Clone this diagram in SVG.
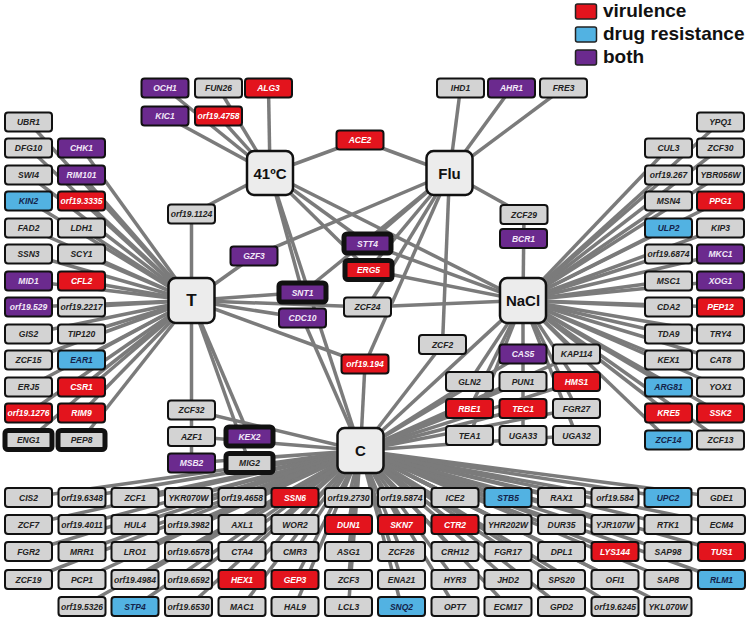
<svg xmlns="http://www.w3.org/2000/svg" width="750" height="621" viewBox="0 0 750 621">
<style>
text{font-family:"Liberation Sans",Arial,sans-serif;text-anchor:middle}
.n text{font-size:8.5px;font-weight:bold;font-style:italic}
.n rect{stroke:#111;stroke-width:2}
.g rect{fill:#d3d3d3}.g text{fill:#222}
.r rect{fill:#e3141d}.r text{fill:#fff}
.b rect{fill:#52b2e2}.b text{fill:#14234a}
.p rect{fill:#6b2a8e}.p text{fill:#f2e8f8}
.k rect{stroke-width:5}
.h rect{fill:#ececec;stroke:#111;stroke-width:2.5}
.h text{font-size:15px;font-weight:bold;fill:#111}
#edges line{stroke:#7b7b7b;stroke-width:3.5}
.lg text{font-size:19px;font-weight:bold;text-anchor:start;fill:#111}
.lg rect{stroke:#222;stroke-width:1.5}
</style>
<rect width="750" height="621" fill="#fff"/>
<g id="edges">
<!-- 41C -->
<line x1="270" y1="173" x2="165" y2="88"/><line x1="270" y1="173" x2="218.5" y2="88"/><line x1="270" y1="173" x2="268.5" y2="88"/>
<line x1="270" y1="173" x2="165" y2="116"/><line x1="270" y1="173" x2="218.5" y2="116"/><line x1="270" y1="173" x2="360" y2="140"/>
<line x1="270" y1="173" x2="191.5" y2="214"/><line x1="270" y1="173" x2="367.5" y2="243.5"/><line x1="270" y1="173" x2="368.5" y2="270"/>
<line x1="270" y1="173" x2="302.5" y2="292.5"/><line x1="270" y1="173" x2="360.5" y2="450.5"/><line x1="270" y1="173" x2="523" y2="300.5"/>
<!-- Flu -->
<line x1="449.5" y1="173" x2="460.5" y2="88"/><line x1="449.5" y1="173" x2="511.5" y2="88"/><line x1="449.5" y1="173" x2="563.5" y2="88"/>
<line x1="449.5" y1="173" x2="360" y2="140"/><line x1="449.5" y1="173" x2="524" y2="214.5"/><line x1="449.5" y1="173" x2="254" y2="256"/>
<line x1="449.5" y1="173" x2="367.5" y2="243.5"/><line x1="449.5" y1="173" x2="368.5" y2="270"/><line x1="449.5" y1="173" x2="302.5" y2="292.5"/>
<line x1="449.5" y1="173" x2="367.5" y2="307"/><line x1="449.5" y1="173" x2="442.5" y2="344.5"/><line x1="449.5" y1="173" x2="365" y2="364"/>
<!-- T center -->
<line x1="191.5" y1="300.5" x2="191.5" y2="214"/><line x1="191.5" y1="300.5" x2="254" y2="256"/><line x1="191.5" y1="300.5" x2="302.5" y2="292.5"/>
<line x1="191.5" y1="300.5" x2="302.5" y2="318"/><line x1="191.5" y1="300.5" x2="367.5" y2="307"/><line x1="191.5" y1="300.5" x2="365" y2="364"/>
<line x1="191.5" y1="300.5" x2="191.5" y2="463"/><line x1="191.5" y1="300.5" x2="249.5" y2="436.5"/><line x1="191.5" y1="300.5" x2="249.5" y2="463"/>
<!-- T left column -->
<line x1="191.5" y1="300.5" x2="28.5" y2="122"/><line x1="191.5" y1="300.5" x2="28.5" y2="148"/><line x1="191.5" y1="300.5" x2="81.5" y2="148"/>
<line x1="191.5" y1="300.5" x2="28.5" y2="175"/><line x1="191.5" y1="300.5" x2="81.5" y2="175"/><line x1="191.5" y1="300.5" x2="28.5" y2="201"/>
<line x1="191.5" y1="300.5" x2="81.5" y2="201"/><line x1="191.5" y1="300.5" x2="28.5" y2="228"/><line x1="191.5" y1="300.5" x2="81.5" y2="228"/>
<line x1="191.5" y1="300.5" x2="28.5" y2="254"/><line x1="191.5" y1="300.5" x2="81.5" y2="254"/><line x1="191.5" y1="300.5" x2="28.5" y2="281"/>
<line x1="191.5" y1="300.5" x2="81.5" y2="281"/><line x1="191.5" y1="300.5" x2="28.5" y2="307"/><line x1="191.5" y1="300.5" x2="81.5" y2="307"/>
<line x1="191.5" y1="300.5" x2="28.5" y2="334"/><line x1="191.5" y1="300.5" x2="81.5" y2="334"/><line x1="191.5" y1="300.5" x2="28.5" y2="360"/>
<line x1="191.5" y1="300.5" x2="81.5" y2="360"/><line x1="191.5" y1="300.5" x2="28.5" y2="387"/><line x1="191.5" y1="300.5" x2="81.5" y2="387"/>
<line x1="191.5" y1="300.5" x2="28.5" y2="413"/><line x1="191.5" y1="300.5" x2="81.5" y2="413"/><line x1="191.5" y1="300.5" x2="28.5" y2="440"/>
<line x1="191.5" y1="300.5" x2="81.5" y2="440"/>
<!-- NaCl center -->
<line x1="523" y1="300.5" x2="524" y2="214.5"/><line x1="523" y1="300.5" x2="367.5" y2="243.5"/><line x1="523" y1="300.5" x2="368.5" y2="270"/>
<line x1="523" y1="300.5" x2="367.5" y2="307"/><line x1="523" y1="300.5" x2="523" y2="435.5"/><line x1="523" y1="300.5" x2="576.5" y2="354"/>
<line x1="523" y1="300.5" x2="469.5" y2="381.5"/><line x1="523" y1="300.5" x2="576.5" y2="381.5"/><line x1="523" y1="300.5" x2="469.5" y2="408.5"/>
<line x1="523" y1="300.5" x2="576.5" y2="408.5"/><line x1="523" y1="300.5" x2="469.5" y2="435.5"/><line x1="523" y1="300.5" x2="576.5" y2="435.5"/>
<line x1="523" y1="300.5" x2="360.5" y2="450.5"/>
<!-- NaCl right column -->
<line x1="523" y1="300.5" x2="720.5" y2="122"/><line x1="523" y1="300.5" x2="668.5" y2="148"/><line x1="523" y1="300.5" x2="720.5" y2="148"/>
<line x1="523" y1="300.5" x2="668.5" y2="175"/><line x1="523" y1="300.5" x2="720.5" y2="175"/><line x1="523" y1="300.5" x2="668.5" y2="201"/>
<line x1="523" y1="300.5" x2="720.5" y2="201"/><line x1="523" y1="300.5" x2="668.5" y2="228"/><line x1="523" y1="300.5" x2="720.5" y2="228"/>
<line x1="523" y1="300.5" x2="668.5" y2="254"/><line x1="523" y1="300.5" x2="720.5" y2="254"/><line x1="523" y1="300.5" x2="668.5" y2="281"/>
<line x1="523" y1="300.5" x2="720.5" y2="281"/><line x1="523" y1="300.5" x2="668.5" y2="307"/><line x1="523" y1="300.5" x2="720.5" y2="307"/>
<line x1="523" y1="300.5" x2="668.5" y2="334"/><line x1="523" y1="300.5" x2="720.5" y2="334"/><line x1="523" y1="300.5" x2="668.5" y2="360"/>
<line x1="523" y1="300.5" x2="720.5" y2="360"/><line x1="523" y1="300.5" x2="668.5" y2="387"/><line x1="523" y1="300.5" x2="720.5" y2="387"/>
<line x1="523" y1="300.5" x2="668.5" y2="413"/><line x1="523" y1="300.5" x2="720.5" y2="413"/><line x1="523" y1="300.5" x2="668.5" y2="440"/>
<line x1="523" y1="300.5" x2="720.5" y2="440"/>
<!-- C center -->
<line x1="360.5" y1="450.5" x2="191.5" y2="410"/><line x1="360.5" y1="450.5" x2="191.5" y2="436.5"/><line x1="360.5" y1="450.5" x2="191.5" y2="463"/>
<line x1="360.5" y1="450.5" x2="302.5" y2="318"/><line x1="360.5" y1="450.5" x2="365" y2="364"/><line x1="360.5" y1="450.5" x2="442.5" y2="344.5"/>
<line x1="360.5" y1="450.5" x2="523" y2="354"/><line x1="360.5" y1="450.5" x2="576.5" y2="354"/><line x1="360.5" y1="450.5" x2="469.5" y2="381.5"/>
<line x1="360.5" y1="450.5" x2="523" y2="381.5"/><line x1="360.5" y1="450.5" x2="576.5" y2="381.5"/><line x1="360.5" y1="450.5" x2="469.5" y2="408.5"/>
<line x1="360.5" y1="450.5" x2="523" y2="408.5"/><line x1="360.5" y1="450.5" x2="576.5" y2="408.5"/><line x1="360.5" y1="450.5" x2="576.5" y2="435.5"/>
<!-- C bottom grid -->
<line x1="360.5" y1="450.5" x2="28.5" y2="497.5"/><line x1="360.5" y1="450.5" x2="82" y2="497.5"/><line x1="360.5" y1="450.5" x2="135" y2="497.5"/>
<line x1="360.5" y1="450.5" x2="188.5" y2="497.5"/><line x1="360.5" y1="450.5" x2="242" y2="497.5"/><line x1="360.5" y1="450.5" x2="295" y2="497.5"/>
<line x1="360.5" y1="450.5" x2="348.5" y2="497.5"/><line x1="360.5" y1="450.5" x2="401.5" y2="497.5"/><line x1="360.5" y1="450.5" x2="455" y2="497.5"/>
<line x1="360.5" y1="450.5" x2="508" y2="497.5"/><line x1="360.5" y1="450.5" x2="561.5" y2="497.5"/><line x1="360.5" y1="450.5" x2="615" y2="497.5"/>
<line x1="360.5" y1="450.5" x2="668" y2="497.5"/><line x1="360.5" y1="450.5" x2="721.5" y2="497.5"/>
<line x1="360.5" y1="450.5" x2="28.5" y2="524.5"/><line x1="360.5" y1="450.5" x2="82" y2="524.5"/><line x1="360.5" y1="450.5" x2="135" y2="524.5"/>
<line x1="360.5" y1="450.5" x2="188.5" y2="524.5"/><line x1="360.5" y1="450.5" x2="242" y2="524.5"/><line x1="360.5" y1="450.5" x2="295" y2="524.5"/>
<line x1="360.5" y1="450.5" x2="348.5" y2="524.5"/><line x1="360.5" y1="450.5" x2="401.5" y2="524.5"/><line x1="360.5" y1="450.5" x2="455" y2="524.5"/>
<line x1="360.5" y1="450.5" x2="508" y2="524.5"/><line x1="360.5" y1="450.5" x2="561.5" y2="524.5"/><line x1="360.5" y1="450.5" x2="615" y2="524.5"/>
<line x1="360.5" y1="450.5" x2="668" y2="524.5"/><line x1="360.5" y1="450.5" x2="721.5" y2="524.5"/>
<line x1="360.5" y1="450.5" x2="28.5" y2="551.5"/><line x1="360.5" y1="450.5" x2="82" y2="551.5"/><line x1="360.5" y1="450.5" x2="135" y2="551.5"/>
<line x1="360.5" y1="450.5" x2="188.5" y2="551.5"/><line x1="360.5" y1="450.5" x2="242" y2="551.5"/><line x1="360.5" y1="450.5" x2="295" y2="551.5"/>
<line x1="360.5" y1="450.5" x2="348.5" y2="551.5"/><line x1="360.5" y1="450.5" x2="401.5" y2="551.5"/><line x1="360.5" y1="450.5" x2="455" y2="551.5"/>
<line x1="360.5" y1="450.5" x2="508" y2="551.5"/><line x1="360.5" y1="450.5" x2="561.5" y2="551.5"/><line x1="360.5" y1="450.5" x2="615" y2="551.5"/>
<line x1="360.5" y1="450.5" x2="668" y2="551.5"/><line x1="360.5" y1="450.5" x2="721.5" y2="551.5"/>
<line x1="360.5" y1="450.5" x2="28.5" y2="579.5"/><line x1="360.5" y1="450.5" x2="82" y2="579.5"/><line x1="360.5" y1="450.5" x2="135" y2="579.5"/>
<line x1="360.5" y1="450.5" x2="188.5" y2="579.5"/><line x1="360.5" y1="450.5" x2="242" y2="579.5"/><line x1="360.5" y1="450.5" x2="295" y2="579.5"/>
<line x1="360.5" y1="450.5" x2="348.5" y2="579.5"/><line x1="360.5" y1="450.5" x2="401.5" y2="579.5"/><line x1="360.5" y1="450.5" x2="455" y2="579.5"/>
<line x1="360.5" y1="450.5" x2="508" y2="579.5"/><line x1="360.5" y1="450.5" x2="561.5" y2="579.5"/><line x1="360.5" y1="450.5" x2="615" y2="579.5"/>
<line x1="360.5" y1="450.5" x2="668" y2="579.5"/><line x1="360.5" y1="450.5" x2="721.5" y2="579.5"/>
<line x1="360.5" y1="450.5" x2="82" y2="606.5"/><line x1="360.5" y1="450.5" x2="135" y2="606.5"/>
<line x1="360.5" y1="450.5" x2="188.5" y2="606.5"/><line x1="360.5" y1="450.5" x2="242" y2="606.5"/><line x1="360.5" y1="450.5" x2="295" y2="606.5"/>
<line x1="360.5" y1="450.5" x2="348.5" y2="606.5"/><line x1="360.5" y1="450.5" x2="401.5" y2="606.5"/><line x1="360.5" y1="450.5" x2="455" y2="606.5"/>
<line x1="360.5" y1="450.5" x2="508" y2="606.5"/><line x1="360.5" y1="450.5" x2="561.5" y2="606.5"/><line x1="360.5" y1="450.5" x2="615" y2="606.5"/>
<line x1="360.5" y1="450.5" x2="668" y2="606.5"/>
</g>

<!-- hubs -->
<g id="hub-41C" class="h"><rect x="247" y="151" width="46" height="44" rx="7"/><text x="270" y="178.5">41ºC</text></g>
<g id="hub-Flu" class="h"><rect x="426.5" y="151" width="46" height="44" rx="7"/><text x="449.5" y="178.5">Flu</text></g>
<g id="hub-T" class="h"><rect x="168.5" y="278" width="46" height="45" rx="7"/><text x="191.5" y="306" style="font-size:17px">T</text></g>
<g id="hub-NaCl" class="h"><rect x="500" y="278" width="46" height="45" rx="7"/><text x="523" y="306">NaCl</text></g>
<g id="hub-C" class="h"><rect x="337.5" y="428" width="46" height="45" rx="7"/><text x="360.5" y="456">C</text></g>

<!-- top nodes -->
<g id="n-OCH1" class="n p"><rect x="141.5" y="78.5" width="47" height="19" rx="3"/><text x="165" y="91">OCH1</text></g>
<g id="n-FUN26" class="n g"><rect x="195" y="78.5" width="47" height="19" rx="3"/><text x="218.5" y="91">FUN26</text></g>
<g id="n-ALG3" class="n r"><rect x="245" y="78.5" width="47" height="19" rx="3"/><text x="268.5" y="91">ALG3</text></g>
<g id="n-KIC1" class="n p"><rect x="141.5" y="106.5" width="47" height="19" rx="3"/><text x="165" y="119">KIC1</text></g>
<g id="n-orf19.4758" class="n r"><rect x="195" y="106.5" width="47" height="19" rx="3"/><text x="218.5" y="119">orf19.4758</text></g>
<g id="n-IHD1" class="n g"><rect x="437" y="78.5" width="47" height="19" rx="3"/><text x="460.5" y="91">IHD1</text></g>
<g id="n-AHR1" class="n p"><rect x="488" y="78.5" width="47" height="19" rx="3"/><text x="511.5" y="91">AHR1</text></g>
<g id="n-FRE3" class="n g"><rect x="540" y="78.5" width="47" height="19" rx="3"/><text x="563.5" y="91">FRE3</text></g>
<g id="n-ACE2" class="n r"><rect x="336.5" y="130.5" width="47" height="19" rx="3"/><text x="360" y="143">ACE2</text></g>

<!-- middle nodes -->
<g id="n-orf19.1124" class="n g"><rect x="168" y="204.5" width="47" height="19" rx="3"/><text x="191.5" y="217">orf19.1124</text></g>
<g id="n-GZF3" class="n p"><rect x="230.5" y="246.5" width="47" height="19" rx="3"/><text x="254" y="259">GZF3</text></g>
<g id="n-STT4" class="n p k"><rect x="344" y="234" width="47" height="19" rx="3"/><text x="367.5" y="246.5">STT4</text></g>
<g id="n-ERG5" class="n r k"><rect x="345" y="260.5" width="47" height="19" rx="3"/><text x="368.5" y="273">ERG5</text></g>
<g id="n-SNT1" class="n p k"><rect x="279" y="283" width="47" height="19" rx="3"/><text x="302.5" y="295.5">SNT1</text></g>
<g id="n-CDC10" class="n p"><rect x="279" y="308.5" width="47" height="19" rx="3"/><text x="302.5" y="321">CDC10</text></g>
<g id="n-ZCF24" class="n g"><rect x="344" y="297.5" width="47" height="19" rx="3"/><text x="367.5" y="310">ZCF24</text></g>
<g id="n-orf19.194" class="n r"><rect x="341.5" y="354.5" width="47" height="19" rx="3"/><text x="365" y="367">orf19.194</text></g>
<g id="n-ZCF29" class="n g"><rect x="500.5" y="205" width="47" height="19" rx="3"/><text x="524" y="217.5">ZCF29</text></g>
<g id="n-BCR1" class="n p"><rect x="500" y="229" width="47" height="19" rx="3"/><text x="523.5" y="241.5">BCR1</text></g>
<g id="n-ZCF2" class="n g"><rect x="419" y="335" width="47" height="19" rx="3"/><text x="442.5" y="347.5">ZCF2</text></g>
<g id="n-CAS5" class="n p"><rect x="499.5" y="344.5" width="47" height="19" rx="3"/><text x="523" y="357">CAS5</text></g>
<g id="n-KAP114" class="n g"><rect x="553" y="344.5" width="47" height="19" rx="3"/><text x="576.5" y="357">KAP114</text></g>
<g id="n-GLN2" class="n g"><rect x="446" y="372" width="47" height="19" rx="3"/><text x="469.5" y="384.5">GLN2</text></g>
<g id="n-PUN1" class="n g"><rect x="499.5" y="372" width="47" height="19" rx="3"/><text x="523" y="384.5">PUN1</text></g>
<g id="n-HMS1" class="n r"><rect x="553" y="372" width="47" height="19" rx="3"/><text x="576.5" y="384.5">HMS1</text></g>
<g id="n-RBE1" class="n r"><rect x="446" y="399" width="47" height="19" rx="3"/><text x="469.5" y="411.5">RBE1</text></g>
<g id="n-TEC1" class="n r"><rect x="499.5" y="399" width="47" height="19" rx="3"/><text x="523" y="411.5">TEC1</text></g>
<g id="n-FGR27" class="n g"><rect x="553" y="399" width="47" height="19" rx="3"/><text x="576.5" y="411.5">FGR27</text></g>
<g id="n-TEA1" class="n g"><rect x="446" y="426" width="47" height="19" rx="3"/><text x="469.5" y="438.5">TEA1</text></g>
<g id="n-UGA33" class="n g"><rect x="499.5" y="426" width="47" height="19" rx="3"/><text x="523" y="438.5">UGA33</text></g>
<g id="n-UGA32" class="n g"><rect x="553" y="426" width="47" height="19" rx="3"/><text x="576.5" y="438.5">UGA32</text></g>
<g id="n-ZCF32" class="n g"><rect x="168" y="400.5" width="47" height="19" rx="3"/><text x="191.5" y="413">ZCF32</text></g>
<g id="n-AZF1" class="n g"><rect x="168" y="427" width="47" height="19" rx="3"/><text x="191.5" y="439.5">AZF1</text></g>
<g id="n-KEX2" class="n p k"><rect x="226" y="427" width="47" height="19" rx="3"/><text x="249.5" y="439.5">KEX2</text></g>
<g id="n-MSB2" class="n p"><rect x="168" y="453.5" width="47" height="19" rx="3"/><text x="191.5" y="466">MSB2</text></g>
<g id="n-MIG2" class="n g k"><rect x="226" y="453.5" width="47" height="19" rx="3"/><text x="249.5" y="466">MIG2</text></g>

<!-- left column -->
<g id="n-UBR1" class="n g"><rect x="5" y="112.5" width="47" height="19" rx="3"/><text x="28.5" y="125">UBR1</text></g>
<g id="n-DFG10" class="n g"><rect x="5" y="138.5" width="47" height="19" rx="3"/><text x="28.5" y="151">DFG10</text></g>
<g id="n-CHK1" class="n p"><rect x="58" y="138.5" width="47" height="19" rx="3"/><text x="81.5" y="151">CHK1</text></g>
<g id="n-SWI4" class="n g"><rect x="5" y="165.5" width="47" height="19" rx="3"/><text x="28.5" y="178">SWI4</text></g>
<g id="n-RIM101" class="n p"><rect x="58" y="165.5" width="47" height="19" rx="3"/><text x="81.5" y="178">RIM101</text></g>
<g id="n-KIN2" class="n b"><rect x="5" y="191.5" width="47" height="19" rx="3"/><text x="28.5" y="204">KIN2</text></g>
<g id="n-orf19.3335" class="n r"><rect x="58" y="191.5" width="47" height="19" rx="3"/><text x="81.5" y="204">orf19.3335</text></g>
<g id="n-FAD2" class="n g"><rect x="5" y="218.5" width="47" height="19" rx="3"/><text x="28.5" y="231">FAD2</text></g>
<g id="n-LDH1" class="n g"><rect x="58" y="218.5" width="47" height="19" rx="3"/><text x="81.5" y="231">LDH1</text></g>
<g id="n-SSN3" class="n g"><rect x="5" y="244.5" width="47" height="19" rx="3"/><text x="28.5" y="257">SSN3</text></g>
<g id="n-SCY1" class="n g"><rect x="58" y="244.5" width="47" height="19" rx="3"/><text x="81.5" y="257">SCY1</text></g>
<g id="n-MID1" class="n p"><rect x="5" y="271.5" width="47" height="19" rx="3"/><text x="28.5" y="284">MID1</text></g>
<g id="n-CFL2" class="n r"><rect x="58" y="271.5" width="47" height="19" rx="3"/><text x="81.5" y="284">CFL2</text></g>
<g id="n-orf19.529" class="n p"><rect x="5" y="297.5" width="47" height="19" rx="3"/><text x="28.5" y="310">orf19.529</text></g>
<g id="n-orf19.2217" class="n g"><rect x="58" y="297.5" width="47" height="19" rx="3"/><text x="81.5" y="310">orf19.2217</text></g>
<g id="n-GIS2" class="n g"><rect x="5" y="324.5" width="47" height="19" rx="3"/><text x="28.5" y="337">GIS2</text></g>
<g id="n-TIP120" class="n g"><rect x="58" y="324.5" width="47" height="19" rx="3"/><text x="81.5" y="337">TIP120</text></g>
<g id="n-ZCF15" class="n g"><rect x="5" y="350.5" width="47" height="19" rx="3"/><text x="28.5" y="363">ZCF15</text></g>
<g id="n-EAR1" class="n b"><rect x="58" y="350.5" width="47" height="19" rx="3"/><text x="81.5" y="363">EAR1</text></g>
<g id="n-ERJ5" class="n g"><rect x="5" y="377.5" width="47" height="19" rx="3"/><text x="28.5" y="390">ERJ5</text></g>
<g id="n-CSR1" class="n r"><rect x="58" y="377.5" width="47" height="19" rx="3"/><text x="81.5" y="390">CSR1</text></g>
<g id="n-orf19.1276" class="n r"><rect x="5" y="403.5" width="47" height="19" rx="3"/><text x="28.5" y="416">orf19.1276</text></g>
<g id="n-RIM9" class="n r"><rect x="58" y="403.5" width="47" height="19" rx="3"/><text x="81.5" y="416">RIM9</text></g>
<g id="n-ENG1" class="n g k"><rect x="5" y="430.5" width="47" height="19" rx="3"/><text x="28.5" y="443">ENG1</text></g>
<g id="n-PEP8" class="n g k"><rect x="58" y="430.5" width="47" height="19" rx="3"/><text x="81.5" y="443">PEP8</text></g>

<!-- right column -->
<g id="n-YPQ1" class="n g"><rect x="697" y="112.5" width="47" height="19" rx="3"/><text x="720.5" y="125">YPQ1</text></g>
<g id="n-CUL3" class="n g"><rect x="645" y="138.5" width="47" height="19" rx="3"/><text x="668.5" y="151">CUL3</text></g>
<g id="n-ZCF30" class="n g"><rect x="697" y="138.5" width="47" height="19" rx="3"/><text x="720.5" y="151">ZCF30</text></g>
<g id="n-orf19.267" class="n g"><rect x="645" y="165.5" width="47" height="19" rx="3"/><text x="668.5" y="178">orf19.267</text></g>
<g id="n-YBR056W" class="n g"><rect x="697" y="165.5" width="47" height="19" rx="3"/><text x="720.5" y="178">YBR056W</text></g>
<g id="n-MSN4" class="n g"><rect x="645" y="191.5" width="47" height="19" rx="3"/><text x="668.5" y="204">MSN4</text></g>
<g id="n-PPG1" class="n r"><rect x="697" y="191.5" width="47" height="19" rx="3"/><text x="720.5" y="204">PPG1</text></g>
<g id="n-ULP2" class="n b"><rect x="645" y="218.5" width="47" height="19" rx="3"/><text x="668.5" y="231">ULP2</text></g>
<g id="n-KIP3" class="n g"><rect x="697" y="218.5" width="47" height="19" rx="3"/><text x="720.5" y="231">KIP3</text></g>
<g id="n-orf19.6874" class="n g"><rect x="645" y="244.5" width="47" height="19" rx="3"/><text x="668.5" y="257">orf19.6874</text></g>
<g id="n-MKC1" class="n p"><rect x="697" y="244.5" width="47" height="19" rx="3"/><text x="720.5" y="257">MKC1</text></g>
<g id="n-MSC1" class="n g"><rect x="645" y="271.5" width="47" height="19" rx="3"/><text x="668.5" y="284">MSC1</text></g>
<g id="n-XOG1" class="n p"><rect x="697" y="271.5" width="47" height="19" rx="3"/><text x="720.5" y="284">XOG1</text></g>
<g id="n-CDA2" class="n g"><rect x="645" y="297.5" width="47" height="19" rx="3"/><text x="668.5" y="310">CDA2</text></g>
<g id="n-PEP12" class="n r"><rect x="697" y="297.5" width="47" height="19" rx="3"/><text x="720.5" y="310">PEP12</text></g>
<g id="n-TDA9" class="n g"><rect x="645" y="324.5" width="47" height="19" rx="3"/><text x="668.5" y="337">TDA9</text></g>
<g id="n-TRY4" class="n g"><rect x="697" y="324.5" width="47" height="19" rx="3"/><text x="720.5" y="337">TRY4</text></g>
<g id="n-KEX1" class="n g"><rect x="645" y="350.5" width="47" height="19" rx="3"/><text x="668.5" y="363">KEX1</text></g>
<g id="n-CAT8" class="n g"><rect x="697" y="350.5" width="47" height="19" rx="3"/><text x="720.5" y="363">CAT8</text></g>
<g id="n-ARG81" class="n b"><rect x="645" y="377.5" width="47" height="19" rx="3"/><text x="668.5" y="390">ARG81</text></g>
<g id="n-YOX1" class="n g"><rect x="697" y="377.5" width="47" height="19" rx="3"/><text x="720.5" y="390">YOX1</text></g>
<g id="n-KRE5" class="n r"><rect x="645" y="403.5" width="47" height="19" rx="3"/><text x="668.5" y="416">KRE5</text></g>
<g id="n-SSK2" class="n r"><rect x="697" y="403.5" width="47" height="19" rx="3"/><text x="720.5" y="416">SSK2</text></g>
<g id="n-ZCF14" class="n b"><rect x="645" y="430.5" width="47" height="19" rx="3"/><text x="668.5" y="443">ZCF14</text></g>
<g id="n-ZCF13" class="n g"><rect x="697" y="430.5" width="47" height="19" rx="3"/><text x="720.5" y="443">ZCF13</text></g>

<!-- bottom grid row 1 -->
<g id="n-CIS2" class="n g"><rect x="5" y="488" width="47" height="19" rx="3"/><text x="28.5" y="500.5">CIS2</text></g>
<g id="n-orf19.6348" class="n g"><rect x="58.5" y="488" width="47" height="19" rx="3"/><text x="82" y="500.5">orf19.6348</text></g>
<g id="n-ZCF1" class="n g"><rect x="111.5" y="488" width="47" height="19" rx="3"/><text x="135" y="500.5">ZCF1</text></g>
<g id="n-YKR070W" class="n g"><rect x="165" y="488" width="47" height="19" rx="3"/><text x="188.5" y="500.5">YKR070W</text></g>
<g id="n-orf19.4658" class="n g"><rect x="218.5" y="488" width="47" height="19" rx="3"/><text x="242" y="500.5">orf19.4658</text></g>
<g id="n-SSN6" class="n r"><rect x="271.5" y="488" width="47" height="19" rx="3"/><text x="295" y="500.5">SSN6</text></g>
<g id="n-orf19.2730" class="n g"><rect x="325" y="488" width="47" height="19" rx="3"/><text x="348.5" y="500.5">orf19.2730</text></g>
<g id="n-orf19.5874" class="n g"><rect x="378" y="488" width="47" height="19" rx="3"/><text x="401.5" y="500.5">orf19.5874</text></g>
<g id="n-ICE2" class="n g"><rect x="431.5" y="488" width="47" height="19" rx="3"/><text x="455" y="500.5">ICE2</text></g>
<g id="n-STB5" class="n b"><rect x="484.5" y="488" width="47" height="19" rx="3"/><text x="508" y="500.5">STB5</text></g>
<g id="n-RAX1" class="n g"><rect x="538" y="488" width="47" height="19" rx="3"/><text x="561.5" y="500.5">RAX1</text></g>
<g id="n-orf19.584" class="n g"><rect x="591.5" y="488" width="47" height="19" rx="3"/><text x="615" y="500.5">orf19.584</text></g>
<g id="n-UPC2" class="n b"><rect x="644.5" y="488" width="47" height="19" rx="3"/><text x="668" y="500.5">UPC2</text></g>
<g id="n-GDE1" class="n g"><rect x="698" y="488" width="47" height="19" rx="3"/><text x="721.5" y="500.5">GDE1</text></g>
<!-- row 2 -->
<g id="n-ZCF7" class="n g"><rect x="5" y="515" width="47" height="19" rx="3"/><text x="28.5" y="527.5">ZCF7</text></g>
<g id="n-orf19.4011" class="n g"><rect x="58.5" y="515" width="47" height="19" rx="3"/><text x="82" y="527.5">orf19.4011</text></g>
<g id="n-HUL4" class="n g"><rect x="111.5" y="515" width="47" height="19" rx="3"/><text x="135" y="527.5">HUL4</text></g>
<g id="n-orf19.3982" class="n g"><rect x="165" y="515" width="47" height="19" rx="3"/><text x="188.5" y="527.5">orf19.3982</text></g>
<g id="n-AXL1" class="n g"><rect x="218.5" y="515" width="47" height="19" rx="3"/><text x="242" y="527.5">AXL1</text></g>
<g id="n-WOR2" class="n g"><rect x="271.5" y="515" width="47" height="19" rx="3"/><text x="295" y="527.5">WOR2</text></g>
<g id="n-DUN1" class="n r"><rect x="325" y="515" width="47" height="19" rx="3"/><text x="348.5" y="527.5">DUN1</text></g>
<g id="n-SKN7" class="n r"><rect x="378" y="515" width="47" height="19" rx="3"/><text x="401.5" y="527.5">SKN7</text></g>
<g id="n-CTR2" class="n r"><rect x="431.5" y="515" width="47" height="19" rx="3"/><text x="455" y="527.5">CTR2</text></g>
<g id="n-YHR202W" class="n g"><rect x="484.5" y="515" width="47" height="19" rx="3"/><text x="508" y="527.5">YHR202W</text></g>
<g id="n-DUR35" class="n g"><rect x="538" y="515" width="47" height="19" rx="3"/><text x="561.5" y="527.5">DUR35</text></g>
<g id="n-YJR107W" class="n g"><rect x="591.5" y="515" width="47" height="19" rx="3"/><text x="615" y="527.5">YJR107W</text></g>
<g id="n-RTK1" class="n g"><rect x="644.5" y="515" width="47" height="19" rx="3"/><text x="668" y="527.5">RTK1</text></g>
<g id="n-ECM4" class="n g"><rect x="698" y="515" width="47" height="19" rx="3"/><text x="721.5" y="527.5">ECM4</text></g>
<!-- row 3 -->
<g id="n-FGR2" class="n g"><rect x="5" y="542" width="47" height="19" rx="3"/><text x="28.5" y="554.5">FGR2</text></g>
<g id="n-MRR1" class="n g"><rect x="58.5" y="542" width="47" height="19" rx="3"/><text x="82" y="554.5">MRR1</text></g>
<g id="n-LRO1" class="n g"><rect x="111.5" y="542" width="47" height="19" rx="3"/><text x="135" y="554.5">LRO1</text></g>
<g id="n-orf19.6578" class="n g"><rect x="165" y="542" width="47" height="19" rx="3"/><text x="188.5" y="554.5">orf19.6578</text></g>
<g id="n-CTA4" class="n g"><rect x="218.5" y="542" width="47" height="19" rx="3"/><text x="242" y="554.5">CTA4</text></g>
<g id="n-CMR3" class="n g"><rect x="271.5" y="542" width="47" height="19" rx="3"/><text x="295" y="554.5">CMR3</text></g>
<g id="n-ASG1" class="n g"><rect x="325" y="542" width="47" height="19" rx="3"/><text x="348.5" y="554.5">ASG1</text></g>
<g id="n-ZCF26" class="n g"><rect x="378" y="542" width="47" height="19" rx="3"/><text x="401.5" y="554.5">ZCF26</text></g>
<g id="n-CRH12" class="n g"><rect x="431.5" y="542" width="47" height="19" rx="3"/><text x="455" y="554.5">CRH12</text></g>
<g id="n-FGR17" class="n g"><rect x="484.5" y="542" width="47" height="19" rx="3"/><text x="508" y="554.5">FGR17</text></g>
<g id="n-DPL1" class="n g"><rect x="538" y="542" width="47" height="19" rx="3"/><text x="561.5" y="554.5">DPL1</text></g>
<g id="n-LYS144" class="n r"><rect x="591.5" y="542" width="47" height="19" rx="3"/><text x="615" y="554.5">LYS144</text></g>
<g id="n-SAP98" class="n g"><rect x="644.5" y="542" width="47" height="19" rx="3"/><text x="668" y="554.5">SAP98</text></g>
<g id="n-TUS1" class="n r"><rect x="698" y="542" width="47" height="19" rx="3"/><text x="721.5" y="554.5">TUS1</text></g>
<!-- row 4 -->
<g id="n-ZCF19" class="n g"><rect x="5" y="570" width="47" height="19" rx="3"/><text x="28.5" y="582.5">ZCF19</text></g>
<g id="n-PCP1" class="n g"><rect x="58.5" y="570" width="47" height="19" rx="3"/><text x="82" y="582.5">PCP1</text></g>
<g id="n-orf19.4984" class="n g"><rect x="111.5" y="570" width="47" height="19" rx="3"/><text x="135" y="582.5">orf19.4984</text></g>
<g id="n-orf19.6592" class="n g"><rect x="165" y="570" width="47" height="19" rx="3"/><text x="188.5" y="582.5">orf19.6592</text></g>
<g id="n-HEX1" class="n r"><rect x="218.5" y="570" width="47" height="19" rx="3"/><text x="242" y="582.5">HEX1</text></g>
<g id="n-GEP3" class="n r"><rect x="271.5" y="570" width="47" height="19" rx="3"/><text x="295" y="582.5">GEP3</text></g>
<g id="n-ZCF3" class="n g"><rect x="325" y="570" width="47" height="19" rx="3"/><text x="348.5" y="582.5">ZCF3</text></g>
<g id="n-ENA21" class="n g"><rect x="378" y="570" width="47" height="19" rx="3"/><text x="401.5" y="582.5">ENA21</text></g>
<g id="n-HYR3" class="n g"><rect x="431.5" y="570" width="47" height="19" rx="3"/><text x="455" y="582.5">HYR3</text></g>
<g id="n-JHD2" class="n g"><rect x="484.5" y="570" width="47" height="19" rx="3"/><text x="508" y="582.5">JHD2</text></g>
<g id="n-SPS20" class="n g"><rect x="538" y="570" width="47" height="19" rx="3"/><text x="561.5" y="582.5">SPS20</text></g>
<g id="n-OFI1" class="n g"><rect x="591.5" y="570" width="47" height="19" rx="3"/><text x="615" y="582.5">OFI1</text></g>
<g id="n-SAP8" class="n g"><rect x="644.5" y="570" width="47" height="19" rx="3"/><text x="668" y="582.5">SAP8</text></g>
<g id="n-RLM1" class="n b"><rect x="698" y="570" width="47" height="19" rx="3"/><text x="721.5" y="582.5">RLM1</text></g>
<!-- row 5 -->
<g id="n-orf19.5326" class="n g"><rect x="58.5" y="597" width="47" height="19" rx="3"/><text x="82" y="609.5">orf19.5326</text></g>
<g id="n-STP4" class="n b"><rect x="111.5" y="597" width="47" height="19" rx="3"/><text x="135" y="609.5">STP4</text></g>
<g id="n-orf19.6530" class="n g"><rect x="165" y="597" width="47" height="19" rx="3"/><text x="188.5" y="609.5">orf19.6530</text></g>
<g id="n-MAC1" class="n g"><rect x="218.5" y="597" width="47" height="19" rx="3"/><text x="242" y="609.5">MAC1</text></g>
<g id="n-HAL9" class="n g"><rect x="271.5" y="597" width="47" height="19" rx="3"/><text x="295" y="609.5">HAL9</text></g>
<g id="n-LCL3" class="n g"><rect x="325" y="597" width="47" height="19" rx="3"/><text x="348.5" y="609.5">LCL3</text></g>
<g id="n-SNQ2" class="n b"><rect x="378" y="597" width="47" height="19" rx="3"/><text x="401.5" y="609.5">SNQ2</text></g>
<g id="n-OPT7" class="n g"><rect x="431.5" y="597" width="47" height="19" rx="3"/><text x="455" y="609.5">OPT7</text></g>
<g id="n-ECM17" class="n g"><rect x="484.5" y="597" width="47" height="19" rx="3"/><text x="508" y="609.5">ECM17</text></g>
<g id="n-GPD2" class="n g"><rect x="538" y="597" width="47" height="19" rx="3"/><text x="561.5" y="609.5">GPD2</text></g>
<g id="n-orf19.6245" class="n g"><rect x="591.5" y="597" width="47" height="19" rx="3"/><text x="615" y="609.5">orf19.6245</text></g>
<g id="n-YKL070W" class="n g"><rect x="644.5" y="597" width="47" height="19" rx="3"/><text x="668" y="609.5">YKL070W</text></g>

<!-- legend -->
<g id="legend" class="lg">
<rect x="575.5" y="4" width="21" height="15" rx="2" fill="#e3141d"/><text x="603" y="17">virulence</text>
<rect x="575.5" y="27" width="21" height="15" rx="2" fill="#52b2e2"/><text x="603" y="40">drug resistance</text>
<rect x="575.5" y="50" width="21" height="15" rx="2" fill="#6b2a8e"/><text x="603" y="63">both</text>
</g>
</svg>
